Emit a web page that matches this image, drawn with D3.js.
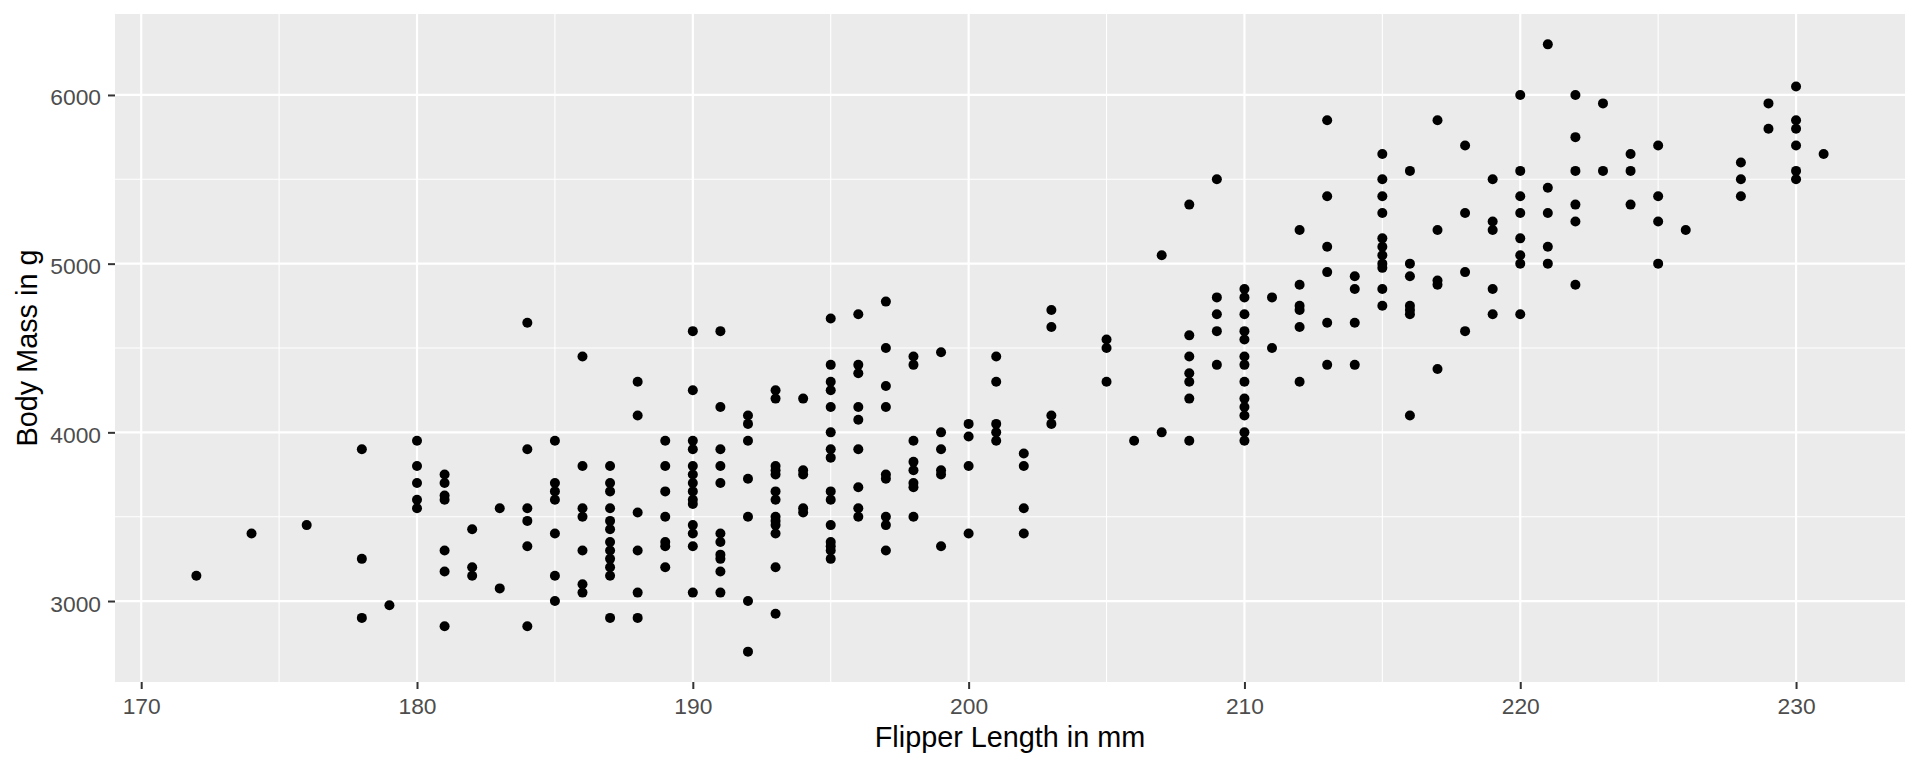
<!DOCTYPE html>
<html>
<head>
<meta charset="utf-8">
<script src="https://cdn.jsdelivr.net/npm/d3@7"></script>
<style>
    body { margin: 0; background: #ffffff; }
    svg { display: block; font-family: "Liberation Sans", Arial, sans-serif; }
    .tick-label { fill: #4d4d4d; font-size: 22.8px; }
    .label { fill: #000000; font-size: 28.8px; }
</style>
</head>
<body>
<svg id="svgPenguins" width="1920" height="768"></svg>
<script>

// Flipper lengths (mm), one entry per column of points
var flipperLength = [172, 174, 176, 178, 179, 180, 181, 182, 183, 184, 185, 186, 187, 188, 189,
    190, 191, 192, 193, 194, 195, 196, 197, 198, 199, 200, 201, 202, 203, 205, 206, 207, 208,
    209, 210, 211, 212, 213, 214, 215, 216, 217, 218, 219, 220, 221, 222, 223, 224, 225, 226,
    228, 229, 230, 231];

// Body masses (g)
var bodyMass = [
    [3150],
    [3400],
    [3450],
    [3900, 3250, 2900],
    [2975],
    [3950, 3800, 3700, 3600, 3550],
    [3750, 3700, 3625, 3600, 3300, 3175, 2850],
    [3425, 3200, 3150],
    [3550, 3075],
    [4650, 3900, 3550, 3475, 3325, 2850],
    [3950, 3700, 3650, 3600, 3400, 3150, 3000],
    [4450, 3800, 3550, 3500, 3300, 3100, 3050],
    [3800, 3700, 3650, 3550, 3475, 3425, 3350, 3300, 3250, 3200, 3150, 2900],
    [4300, 4100, 3525, 3300, 3050, 2900],
    [3950, 3800, 3650, 3500, 3350, 3325, 3200],
    [4600, 4250, 3950, 3900, 3800, 3750, 3700, 3650, 3600, 3575, 3450, 3400, 3325, 3050],
    [4600, 4150, 3900, 3800, 3700, 3400, 3350, 3275, 3250, 3175, 3050],
    [4100, 4050, 3950, 3725, 3500, 3000, 2700],
    [4250, 4200, 3800, 3775, 3750, 3650, 3600, 3500, 3475, 3450, 3400, 3200, 2925],
    [4200, 3775, 3750, 3550, 3525],
    [4675, 4400, 4300, 4250, 4150, 4000, 3900, 3850, 3650, 3600, 3450, 3350, 3325, 3300, 3250],
    [4700, 4400, 4350, 4150, 4075, 3900, 3675, 3550, 3500],
    [4775, 4500, 4275, 4150, 3750, 3725, 3500, 3450, 3300],
    [4450, 4400, 3950, 3825, 3775, 3700, 3675, 3500],
    [4475, 4000, 3900, 3775, 3750, 3325],
    [4050, 3975, 3800, 3400],
    [4450, 4300, 4050, 4000, 3950],
    [3875, 3800, 3550, 3400],
    [4725, 4625, 4100, 4050],
    [4550, 4500, 4300],
    [3950],
    [5050, 4000],
    [5350, 4575, 4450, 4350, 4300, 4200, 3950],
    [5500, 4800, 4700, 4600, 4400],
    [4850, 4800, 4700, 4600, 4550, 4450, 4400, 4300, 4200, 4150, 4100, 4000, 3950],
    [4800, 4500],
    [5200, 4875, 4750, 4725, 4625, 4300],
    [5850, 5400, 5100, 4950, 4650, 4400],
    [4925, 4850, 4650, 4400],
    [5650, 5500, 5400, 5300, 5150, 5100, 5050, 5000, 4975, 4850, 4750],
    [5550, 5000, 4925, 4750, 4725, 4700, 4100],
    [5850, 5200, 4900, 4875, 4375],
    [5700, 5300, 4950, 4600],
    [5500, 5250, 5200, 4850, 4700],
    [6000, 5550, 5400, 5300, 5150, 5050, 5000, 4700],
    [6300, 5450, 5300, 5100, 5000],
    [6000, 5750, 5550, 5350, 5250, 4875],
    [5950, 5550],
    [5650, 5550, 5350],
    [5700, 5400, 5250, 5000],
    [5200],
    [5600, 5500, 5400],
    [5950, 5800],
    [6050, 5850, 5800, 5700, 5550, 5500],
    [5650]
];

// Axis breaks
var xTicks = [170, 180, 190, 200, 210, 220, 230];
var xMinorTicks = [175, 185, 195, 205, 215, 225];
var yTicks = [3000, 4000, 5000, 6000];
var yMinorTicks = [3500, 4500, 5500];

function scatterPlot() {
    /*
    Draws the flipper length vs body mass scatterplot in ggplot style
    */

    var svgWidth = 1920;
    var svgHeight = 768;

    // Padding around the grey panel
    var padding = {
        top: 14,
        right: 15,
        bottom: 86,
        left: 115
    };

    var chartWidth = svgWidth - padding.left - padding.right;
    var chartHeight = svgHeight - padding.top - padding.bottom;

    var svg = d3.select("#svgPenguins");

    // Flatten the columns into points
    var points = [];
    flipperLength.forEach(function(flipper, i) {
        bodyMass[i].forEach(function(mass) {
            points.push({flipper: flipper, mass: mass});
        });
    });

    // ggplot adds 5% on each side of the data range
    var xExtent = d3.extent(points, d => d.flipper);
    var yExtent = d3.extent(points, d => d.mass);
    var xPad = (xExtent[1] - xExtent[0]) * 0.05;
    var yPad = (yExtent[1] - yExtent[0]) * 0.05;

    var xScale = d3.scaleLinear()
        .domain([xExtent[0] - xPad, xExtent[1] + xPad])
        .range([0, chartWidth]);

    var yScale = d3.scaleLinear()
        .domain([yExtent[0] - yPad, yExtent[1] + yPad])
        .range([chartHeight, 0]);

    var panel = svg.append("g")
        .attr("transform", `translate(${padding.left}, ${padding.top})`);

    // Grey panel background
    panel.append("rect")
        .attr("width", chartWidth)
        .attr("height", chartHeight)
        .attr("fill", "#ebebeb");

    // Minor gridlines
    panel.append("g")
        .selectAll("line")
        .data(xMinorTicks)
        .enter()
        .append("line")
            .attr("x1", d => xScale(d))
            .attr("x2", d => xScale(d))
            .attr("y1", 0)
            .attr("y2", chartHeight)
            .attr("stroke", "#ffffff")
            .attr("stroke-width", 1.1);

    panel.append("g")
        .selectAll("line")
        .data(yMinorTicks)
        .enter()
        .append("line")
            .attr("x1", 0)
            .attr("x2", chartWidth)
            .attr("y1", d => yScale(d))
            .attr("y2", d => yScale(d))
            .attr("stroke", "#ffffff")
            .attr("stroke-width", 1.1);

    // Major gridlines
    panel.append("g")
        .selectAll("line")
        .data(xTicks)
        .enter()
        .append("line")
            .attr("x1", d => xScale(d))
            .attr("x2", d => xScale(d))
            .attr("y1", 0)
            .attr("y2", chartHeight)
            .attr("stroke", "#ffffff")
            .attr("stroke-width", 2.2);

    panel.append("g")
        .selectAll("line")
        .data(yTicks)
        .enter()
        .append("line")
            .attr("x1", 0)
            .attr("x2", chartWidth)
            .attr("y1", d => yScale(d))
            .attr("y2", d => yScale(d))
            .attr("stroke", "#ffffff")
            .attr("stroke-width", 2.2);

    // Draw x-axis
    var xAxis = panel.append("g")
        .attr("transform", `translate(0, ${chartHeight})`)
        .call(d3.axisBottom(xScale)
            .tickValues(xTicks)
            .tickSize(7)
            .tickPadding(0)
            .tickFormat(d3.format("d"))
        );
    xAxis.select(".domain").remove();
    xAxis.selectAll(".tick line")
        .attr("stroke", "#333333")
        .attr("stroke-width", 2);
    xAxis.selectAll(".tick text")
        .attr("class", "tick-label")
        .attr("y", 32)
        .attr("dy", null)
        .attr("font-family", null)
        .attr("font-size", null)
        .attr("fill", null);

    // Draw y-axis
    var yAxis = panel.append("g")
        .call(d3.axisLeft(yScale)
            .tickValues(yTicks)
            .tickSize(7)
            .tickPadding(0)
            .tickFormat(d3.format("d"))
        );
    yAxis.select(".domain").remove();
    yAxis.selectAll(".tick line")
        .attr("stroke", "#333333")
        .attr("stroke-width", 2);
    yAxis.selectAll(".tick text")
        .attr("class", "tick-label")
        .attr("x", -14)
        .attr("dy", 10)
        .attr("font-family", null)
        .attr("font-size", null)
        .attr("fill", null);

    // Draw points
    panel.selectAll(".penguin")
        .data(points)
        .enter()
        .append("circle")
            .attr("class", "penguin")
            .attr("cx", d => xScale(d.flipper))
            .attr("cy", d => yScale(d.mass))
            .attr("r", 5)
            .attr("fill", "#000000");

    // Draw x label
    svg.append("text")
        .attr("class", "label")
        .attr("x", padding.left + chartWidth / 2)
        .attr("y", 747)
        .attr("text-anchor", "middle")
        .text("Flipper Length in mm");

    // Draw y label
    svg.append("text")
        .attr("class", "label")
        .attr("transform", `translate(37, ${padding.top + chartHeight / 2}) rotate(-90)`)
        .attr("text-anchor", "middle")
        .text("Body Mass in g");
}

scatterPlot();
</script>
</body>
</html>
